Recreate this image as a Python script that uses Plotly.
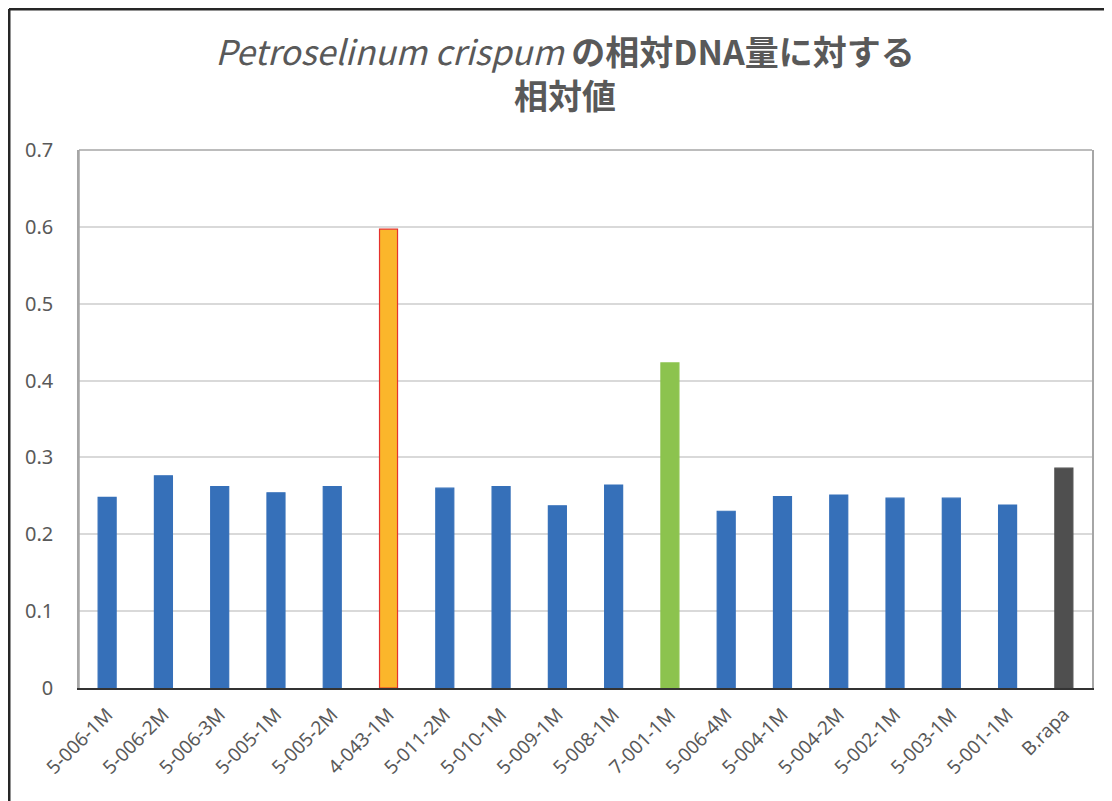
import plotly.graph_objects as go

categories = ["5-006-1M", "5-006-2M", "5-006-3M", "5-005-1M", "5-005-2M", "4-043-1M",
              "5-011-2M", "5-010-1M", "5-009-1M", "5-008-1M", "7-001-1M", "5-006-4M",
              "5-004-1M", "5-004-2M", "5-002-1M", "5-003-1M", "5-001-1M", "B.rapa"]
values = [0.248, 0.276, 0.262, 0.254, 0.262, 0.597,
          0.260, 0.262, 0.237, 0.264, 0.423, 0.230,
          0.249, 0.251, 0.247, 0.247, 0.238, 0.286]
y_ticks = [0, 0.1, 0.2, 0.3, 0.4, 0.5, 0.6, 0.7]
y_ticklabels = ["0", "0.1", "0.2", "0.3", "0.4", "0.5", "0.6", "0.7"]

BLUE = "#3670b9"
colors = [BLUE] * len(categories)
line_colors = [BLUE] * len(categories)
colors[categories.index("4-043-1M")] = "#fbb62b"
line_colors[categories.index("4-043-1M")] = "#e5322d"
colors[categories.index("7-001-1M")] = "#8cc34e"
line_colors[categories.index("7-001-1M")] = "#8cc34e"
colors[categories.index("B.rapa")] = "#4f4f4f"
line_colors[categories.index("B.rapa")] = "#4f4f4f"

fig = go.Figure(go.Bar(
    x=categories, y=values,
    marker=dict(color=colors, line=dict(color=line_colors, width=1.2)),
))

W, H = 1104, 793
L, R, T, B = 71, 20, 142, 113
pw, ph = W - L - R, H - T - B

fig.update_layout(
    width=W, height=H,
    margin=dict(l=L, r=R, t=T, b=B, autoexpand=False),
    paper_bgcolor="white", plot_bgcolor="white",
    bargap=0.68,
    showlegend=False,
    font=dict(family="Noto Sans, Noto Sans CJK JP", color="#595959", size=19),
    title=dict(
        text="<span style='font-weight:normal'><i>Petroselinum crispum</i></span> <b>の相対DNA量に対する</b><br><b>相対値</b>",
        x=(565 - 8) / W, xanchor="center", y=1 - 57 / H, yanchor="top",
        font=dict(family="Noto Sans CJK JP", size=34, color="#595959"),
    ),
    xaxis=dict(
        tickangle=-45, tickfont=dict(size=19, color="#595959"),
        showline=True, linecolor="#333333", linewidth=2,
        showgrid=False, ticks="", automargin=False, ticklabelstandoff=6,
    ),
    yaxis=dict(
        range=[0, 0.7], tickvals=y_ticks, ticktext=y_ticklabels,
        tickfont=dict(size=20, color="#595959"),
        showgrid=True, gridcolor="#d9d9d9", gridwidth=1.5,
        showline=True, linecolor="#a6a6a6", linewidth=1.5, mirror=True,
        zeroline=False, ticks="", ticklabelstandoff=20, automargin=False,
    ),
    shapes=[
        dict(type="line", xref="paper", yref="paper", x0=0, x1=0, y0=1, y1=0,
             line=dict(color="#a6a6a6", width=1.5), layer="above"),
        dict(type="line", xref="paper", yref="paper", x0=0, x1=1, y0=1, y1=1,
             line=dict(color="#a6a6a6", width=1.5), layer="above"),
        # outer frame (top and left)
        dict(type="line", xref="paper", yref="paper",
             x0=-(L - 1) / pw, x1=(W - L) / pw, y0=1 + (T - 1) / ph, y1=1 + (T - 1) / ph,
             line=dict(color="#262626", width=3)),
        dict(type="line", xref="paper", yref="paper",
             x0=-(L - 1) / pw, x1=-(L - 1) / pw, y0=1 + (T - 1) / ph, y1=-B / ph,
             line=dict(color="#262626", width=3)),
    ],
)

fig.write_html("out.html")
